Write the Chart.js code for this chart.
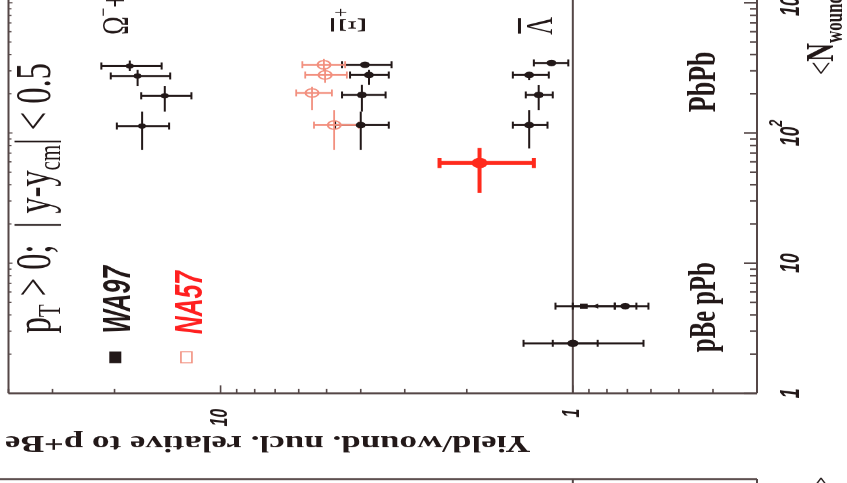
<!DOCTYPE html>
<html>
<head>
<meta charset="utf-8">
<script src="https://cdn.jsdelivr.net/npm/chart.js@4"></script>
<style>
  html, body { margin: 0; padding: 0; background: #fff; overflow: hidden; width: 847px; height: 483px; }
  /* The panel is laid out in its natural orientation, then turned a quarter turn
     and condensed along the <N_wound> direction. */
  #panel { position: absolute; left: 0; top: 0; width: 800px; height: 847px;
           transform-origin: 0 0; transform: translate(0, 483px) rotate(-90deg) scale(0.65, 1); }
  canvas { display: block; }
</style>
</head>
<body>
<div id="panel"><canvas id="c" width="800" height="847"></canvas></div>
<script>
// ---------------- data ----------------
// Pb-Pb centrality classes, anti-Lambda (WA97)
const lamNw   = [345, 279, 196, 115];
const lamNwLo = [345, 255, 150, 76];
const lamNwHi = [345, 295, 233, 150];
const lamY    = [1.15, 1.33, 1.25, 1.33];
const lamYLo  = [1.03, 1.17, 1.14, 1.18];
const lamYHi  = [1.29, 1.48, 1.36, 1.48];

// anti-Xi+ (WA97)
const xiNw   = [334, 279, 196, 115];
const xiNwLo = [334, 234, 146, 74];
const xiNwHi = [334, 305, 234, 146];
const xiY    = [3.89, 3.79, 3.97, 4.00];
const xiYLo  = [3.27, 3.33, 3.40, 3.33];
const xiYHi  = [4.52, 4.29, 4.52, 4.73];

// Omega- + anti-Omega+ (WA97)
const omNw   = [327, 274, 193, 113];
const omNwLo = [300, 230, 146, 74];
const omNwHi = [360, 305, 230, 146];
const omY    = [18.1, 17.2, 14.4, 16.7];
const omYLo  = [14.7, 13.9, 12.1, 14.0];
const omYHi  = [21.8, 20.5, 16.8, 19.7];

// anti-Xi+ (NA57)
const naXiNw   = [334, 279, 203, 115];
const naXiNwLo = [300, 243, 150, 74];
const naXiNwHi = [370, 316, 226, 150];
const naXiY    = [5.09, 5.05, 5.50, 4.76];
const naXiYLo  = [4.43, 4.38, 4.83, 4.05];
const naXiYHi  = [5.86, 5.75, 6.10, 5.43];

// NA57 most peripheral class
const naPerNw   = [58.8];
const naPerNwLo = [34.6];
const naPerNwHi = [76.6];
const naPerY    = [1.84];
const naPerYLo  = [1.29];
const naPerYHi  = [2.39];

// p-Be reference (normalised to 1)
const pBeNw  = [2.42, 2.42];
const pBeY   = [1.0, 1.0];
const pBeYLo = [0.85, 0.63];
const pBeYHi = [1.14, 1.38];

// p-Pb
const pPbNw  = [4.67, 4.67, 4.67];
const pPbY   = [0.93, 0.86, 0.71];
const pPbYLo = [0.76, 0.66, 0.61];
const pPbYHi = [1.12, 1.00, 0.76];

// axes
const nwRange = [1, 1500];
const yRange  = [0.3, 40];
const nwTickValues = [1, 10, 100, 1000];
const nwTickLabels = ['1', '10', '10^2', '10^3'];
const yTickValues  = [1, 10];
const yTickLabels  = ['1', '10'];

// ---------------- styling / layout ----------------
const SQ = 0.65;                 // condensing factor along the N_wound direction
const W = 800, H = 847;
const plotLeft = 138, plotRight = 774, plotTop = 6, plotBottom = 757;
const lowerPanelEdge = 6;        // right edge of the neighbouring panel

const SERIF = '"Liberation Serif","Times New Roman",serif';
const SANS  = '"Liberation Sans",Arial,sans-serif';
const INK = '#221818';
const FRAME = '#554747';
const SALMON = '#f2907f';
const RED = '#ff2a1c';
const RED_TXT = '#ff2020';

function pts(nw, y) { return nw.map((n, i) => ({ x: n, y: y[i] })); }

function series(label, nw, y, nLo, nHi, yLo, yHi, style) {
  return Object.assign({
    label, data: pts(nw, y), showLine: false,
    errN: [nLo, nHi], errY: [yLo, yHi],
    barColor: INK, barWidth: 2, capLen: 3.5
  }, style);
}

const black = (r) => ({ pointStyle: 'circle', pointRadius: r, backgroundColor: INK, borderColor: INK, borderWidth: 0 });

const datasets = [
  series('Lambda WA97', lamNw, lamY, lamNwLo, lamNwHi, lamYLo, lamYHi, black(5)),
  series('Xi WA97', xiNw, xiY, xiNwLo, xiNwHi, xiYLo, xiYHi, black(5)),
  series('Omega WA97', omNw, omY, omNwLo, omNwHi, omYLo, omYHi, black(4)),
  series('Xi NA57', naXiNw, naXiY, naXiNwLo, naXiNwHi, naXiYLo, naXiYHi, {
    pointStyle: 'circle', pointRadius: 6.5, backgroundColor: 'rgba(255,255,255,0)',
    borderColor: SALMON, borderWidth: 2, barColor: SALMON, barWidth: 1.8 }),
  series('NA57 peripheral', naPerNw, naPerY, naPerNwLo, naPerNwHi, naPerYLo, naPerYHi, {
    pointStyle: 'circle', pointRadius: 8, backgroundColor: RED, borderColor: RED, borderWidth: 0,
    barColor: RED, barWidth: 4, capLen: 5 }),
  series('pBe', pBeNw, pBeY, pBeNw, pBeNw, pBeYLo, pBeYHi, black(5.5)),
  series('pPb', pPbNw, pPbY, pPbNw, pPbNw, pPbYLo, pPbYHi, {
    pointStyle: ['rect', 'triangle', 'circle'], pointRadius: [5.5, 4.5, 5],
    backgroundColor: INK, borderColor: INK, borderWidth: 0 })
];

function logTicks(min, max) {
  const out = [];
  for (let e = Math.floor(Math.log10(min)); e <= Math.ceil(Math.log10(max)); e++) {
    for (let m = 1; m <= 9; m++) {
      const v = m * Math.pow(10, e);
      if (v >= min * 0.999 && v <= max * 1.001) out.push({ v, major: m === 1 });
    }
  }
  return out;
}

// draw a run of text pieces: [text, font, dy]
function rich(ctx, x, y, parts) {
  let cx = x;
  for (const [t, f, dy] of parts) {
    ctx.font = f;
    ctx.fillText(t, cx, y + (dy || 0));
    cx += ctx.measureText(t).width;
  }
  return cx;
}
function richWidth(ctx, parts) {
  let w = 0;
  for (const [t, f] of parts) { ctx.font = f; w += ctx.measureText(t).width; }
  return w;
}

// lines: along the N direction (true thickness) / along the yield direction (condensed thickness)
function lineN(ctx, x1, x2, y, t) { ctx.fillRect(Math.min(x1, x2), y - t / 2, Math.abs(x2 - x1), t); }
function lineY(ctx, x, y1, y2, t) { const tw = t / SQ; ctx.fillRect(x - tw / 2, Math.min(y1, y2), tw, Math.abs(y2 - y1)); }

const rootFrame = {
  id: 'rootFrame',
  beforeDatasetsDraw(chart) {
    const { ctx, chartArea: a } = chart;
    const xs = chart.scales.x, ys = chart.scales.y;
    ctx.save();
    ctx.fillStyle = FRAME;
    // frame
    lineN(ctx, a.left, a.right, a.top, 2);
    lineN(ctx, a.left, a.right, a.bottom, 2);
    lineY(ctx, a.left, a.top, a.bottom, 2);
    lineY(ctx, a.right, a.top, a.bottom, 2);
    // unit line
    lineN(ctx, a.left, a.right, ys.getPixelForValue(1), 2);
    // neighbouring panel edge
    lineY(ctx, lowerPanelEdge, 0, a.bottom, 2);
    lineN(ctx, 0, lowerPanelEdge, a.bottom, 2);
    lineN(ctx, 0, lowerPanelEdge, ys.getPixelForValue(1), 2);

    // N_wound ticks (inside, both sides)
    for (const t of logTicks(nwRange[0], nwRange[1])) {
      const x = xs.getPixelForValue(t.v);
      lineY(ctx, x, a.bottom, a.bottom - (t.major ? 13 : 7), 1.6);
      lineY(ctx, x, a.top, a.top + (t.major ? 4 : 3), 1.2);
    }
    // yield ticks
    for (const t of logTicks(yRange[0], yRange[1])) {
      const y = ys.getPixelForValue(t.v);
      lineN(ctx, a.left, a.left + (t.major ? 8 : 4.5) / SQ, y, 1.6);
    }

    // error bars
    chart.data.datasets.forEach((ds) => {
      ctx.fillStyle = ds.barColor;
      ds.data.forEach((p, i) => {
        const x = xs.getPixelForValue(p.x), y = ys.getPixelForValue(p.y);
        const xl = xs.getPixelForValue(ds.errN[0][i]), xh = xs.getPixelForValue(ds.errN[1][i]);
        const yl = ys.getPixelForValue(ds.errY[0][i]), yh = ys.getPixelForValue(ds.errY[1][i]);
        if (Math.abs(xh - xl) > 0.5) lineN(ctx, xl, xh, y, ds.barWidth);
        lineY(ctx, x, yl, yh, ds.barWidth);
        const c = ds.capLen / SQ;
        lineN(ctx, x - c, x + c, yl, ds.barWidth);
        lineN(ctx, x - c, x + c, yh, ds.barWidth);
      });
    });
    ctx.restore();
  },
  afterDatasetsDraw(chart) {
    const { ctx, chartArea: a } = chart;
    const xs = chart.scales.x, ys = chart.scales.y;
    const X = (v) => xs.getPixelForValue(v), Y = (v) => ys.getPixelForValue(v);
    ctx.save();
    ctx.textAlign = 'left';
    ctx.textBaseline = 'alphabetic';

    // axis labels: N_wound
    ctx.fillStyle = INK;
    const big = `italic bold 27px ${SANS}`, sup = `italic bold 19px ${SANS}`;
    nwTickValues.forEach((v, i) => {
      const lab = nwTickLabels[i];
      const [base, exp] = lab.split('^');
      const parts = exp ? [[base, big, 0], [exp, sup, -17]] : [[base, big, 0]];
      const w = richWidth(ctx, parts);
      rich(ctx, X(v) - w / 2, a.bottom + 42, parts);
    });
    // axis labels: yield
    ctx.textAlign = 'right';
    ctx.textBaseline = 'middle';
    ctx.font = `italic bold 24px ${SANS}`;
    yTickValues.forEach((v, i) => ctx.fillText(yTickLabels[i], a.left - 24, Y(v)));
    ctx.textAlign = 'left';
    ctx.textBaseline = 'alphabetic';

    // axis titles
    const nwTitle = [['<', `36px ${SERIF}`, 0], ['N', `bold 40px ${SERIF}`, 0],
                     ['wound', `bold 26px ${SERIF}`, 9], ['>', `36px ${SERIF}`, 0]];
    rich(ctx, X(279), a.bottom + 76, nwTitle);
    rich(ctx, lowerPanelEdge + 4 - richWidth(ctx, nwTitle), a.bottom + 76, nwTitle);

    ctx.save();
    ctx.translate(72, plotTop - 1);
    ctx.rotate(-Math.PI / 2);
    ctx.textAlign = 'right';
    ctx.font = `bold 35px ${SERIF}`;
    ctx.fillText('Yield/wound. nucl. relative to p+Be', 0, 0);
    ctx.restore();

    // kinematic window
    const f50 = `50px ${SERIF}`, f32 = `32px ${SERIF}`;
    rich(ctx, X(2.89), Y(30.4), [
      ['p', f50], ['T', f32, 10], [' > 0;  ', f50], ['|', f50], [' y-y', f50], ['cm', f32, 10],
      ['|', f50], [' < 0.5', f50]
    ]);

    // legend
    ctx.fillStyle = INK;
    ctx.fillRect(X(1.89) - 9, Y(19.9) - 6, 18, 12);
    ctx.font = `italic bold 38px ${SANS}`;
    ctx.fillText('WA97', X(2.89), Y(18.1));
    ctx.strokeStyle = SALMON;
    ctx.lineWidth = 1.6;
    ctx.strokeRect(X(1.89) - 8.5, Y(12.5) - 5.5, 17, 11);
    ctx.fillStyle = RED_TXT;
    ctx.fillText('NA57', X(2.85), Y(11.3));

    // collision systems
    ctx.fillStyle = INK;
    ctx.textAlign = 'center';
    ctx.font = `bold 40px ${SERIF}`;
    ctx.fillText('PbPb', X(247), Y(0.394));
    ctx.font = `bold 38px ${SERIF}`;
    ctx.fillText('pBe pPb', X(4.59), Y(0.394));
    ctx.textAlign = 'left';

    // species tags
    const f38 = `38px ${SERIF}`, f24 = `24px ${SERIF}`;
    const bar = (x0, w, yb) => ctx.fillRect(x0 + 2, yb - 34, w - 4, 3);
    // anti-Lambda
    ctx.font = f38;
    let x0 = X(567), yb = Y(1.146);
    ctx.fillText('Λ', x0, yb);
    bar(x0, ctx.measureText('Λ').width, yb);
    // anti-Xi+
    x0 = X(588); yb = Y(3.89);
    ctx.font = f38;
    ctx.fillText('Ξ', x0, yb);
    let w = ctx.measureText('Ξ').width;
    bar(x0, w, yb);
    ctx.font = f24;
    ctx.fillText('+', x0 + w, yb - 17);
    // Omega- + anti-Omega+
    x0 = X(567); yb = Y(18.3);
    let cx = rich(ctx, x0, yb, [['Ω', f38], ['−', f24, -17], ['+', f38]]);
    ctx.font = f38;
    ctx.fillText('Ω', cx, yb);
    w = ctx.measureText('Ω').width;
    bar(cx, w, yb);
    ctx.font = f24;
    ctx.fillText('+', cx + w, yb - 17);

    ctx.restore();
  }
};

new Chart(document.getElementById('c'), {
  type: 'scatter',
  data: { datasets },
  options: {
    responsive: false,
    devicePixelRatio: 1,
    animation: false,
    layout: { padding: { left: plotLeft, right: W - plotRight, top: plotTop, bottom: H - plotBottom } },
    scales: {
      x: { type: 'logarithmic', min: nwRange[0], max: nwRange[1], display: false },
      y: { type: 'logarithmic', min: yRange[0], max: yRange[1], display: false }
    },
    plugins: { legend: { display: false }, tooltip: { enabled: false } },
    elements: { point: { hoverRadius: 0 } }
  },
  plugins: [rootFrame]
});
</script>
</body>
</html>
